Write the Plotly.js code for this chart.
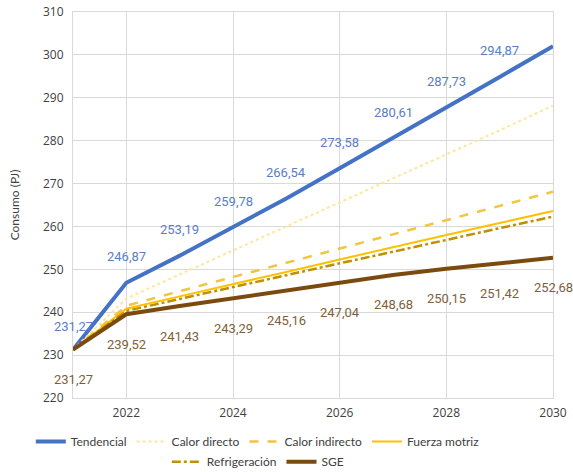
<!DOCTYPE html>
<html>
<head>
<meta charset="utf-8">
<script src="https://cdn.plot.ly/plotly-3.0.1.min.js"></script>
<style>html,body{margin:0;padding:0;background:#fff;}#chart{width:573px;height:472px;}</style>
</head>
<body>
<div id="chart"></div>
<script>
const years = [2021, 2022, 2023, 2024, 2025, 2026, 2027, 2028, 2029, 2030];
const tendencial = [231.27, 246.87, 253.19, 259.78, 266.54, 273.58, 280.61, 287.73, 294.87, 302.0];
const calorDirecto = [231.27, 243.2, 248.8, 254.4, 260.0, 265.5, 271.1, 276.7, 282.4, 288.2];
const calorIndirecto = [231.27, 241.5, 244.9, 248.2, 251.5, 254.9, 258.2, 261.5, 264.8, 268.1];
const fuerzaMotriz = [231.27, 240.8, 243.7, 246.5, 249.4, 252.3, 255.2, 258.0, 260.8, 263.6];
const refrigeracion = [231.27, 240.3, 243.1, 245.9, 248.6, 251.4, 254.1, 256.9, 259.6, 262.3];
const sge = [231.27, 239.52, 241.43, 243.29, 245.16, 247.04, 248.68, 250.15, 251.42, 252.68];
const tendencialLabelCount = 9; // the 2030 value carries no label in the source
const yTicks = [220, 230, 240, 250, 260, 270, 280, 290, 300, 310];
const xTicks = [2022, 2024, 2026, 2028, 2030];

const fmt = v => v.toFixed(2).replace('.', ',');

const traces = [
  {name: 'Tendencial', x: years, y: tendencial, mode: 'lines', line: {color: '#4472C4', width: 4}, legend: 'legend'},
  {name: 'Calor directo', x: years, y: calorDirecto, mode: 'lines', line: {color: '#FFE699', width: 2, dash: 'dot'}, legend: 'legend'},
  {name: 'Calor indirecto', x: years, y: calorIndirecto, mode: 'lines', line: {color: '#F2C440', width: 2.5, dash: 'dash'}, legend: 'legend'},
  {name: 'Fuerza motriz', x: years, y: fuerzaMotriz, mode: 'lines', line: {color: '#FFC000', width: 2}, legend: 'legend'},
  {name: 'Refrigeración', x: years, y: refrigeracion, mode: 'lines', line: {color: '#BF9000', width: 2.5, dash: 'dashdot'}, legend: 'legend2'},
  {name: 'SGE', x: years, y: sge, mode: 'lines', line: {color: '#7B4A0E', width: 4}, legend: 'legend2'}
];

const annotations = [];
for (let i = 0; i < tendencialLabelCount; i++) {
  annotations.push({x: years[i], y: tendencial[i], text: fmt(tendencial[i]), showarrow: false, yshift: i === 0 ? 23 : 26,
    font: {family: 'Roboto', size: 13, color: '#5A7EC6'}});
}
for (let i = 0; i < sge.length; i++) {
  annotations.push({x: years[i], y: sge[i], text: fmt(sge[i]), showarrow: false, yshift: -30,
    font: {family: 'Roboto', size: 13, color: '#7F5F3A'}});
}

const legendCommon = {orientation: 'h', xanchor: 'center', x: 0.385, yanchor: 'middle',
  font: {family: 'Lato', size: 12, color: '#404040'}, bgcolor: 'rgba(0,0,0,0)', traceorder: 'normal'};

const layout = {
  width: 573, height: 472,
  margin: {l: 73, r: 20, t: 12, b: 74, autoexpand: false},
  paper_bgcolor: '#ffffff', plot_bgcolor: '#ffffff',
  font: {family: 'Open Sans', size: 12, color: '#404040'},
  xaxis: {range: [2021, 2030], tickvals: xTicks, ticktext: xTicks.map(String), showgrid: true, gridcolor: '#d9d9d9', gridwidth: 1,
    showline: true, linecolor: '#d9d9d9', mirror: true, zeroline: false, ticks: 'outside', ticklen: 4, tickcolor: 'rgba(0,0,0,0)',
    tickfont: {family: 'Open Sans', size: 12, color: '#404040'}},
  yaxis: {range: [220, 310], tickvals: yTicks, ticktext: yTicks.map(String), showgrid: true, gridcolor: '#d9d9d9', gridwidth: 1,
    showline: true, linecolor: '#d9d9d9', mirror: true, zeroline: false, ticks: 'outside', ticklen: 6, tickcolor: 'rgba(0,0,0,0)',
    tickfont: {family: 'Open Sans', size: 12, color: '#404040'},
    title: {text: 'Consumo (PJ)', font: {family: 'Lato', size: 12, color: '#404040'}, standoff: 20}},
  legend: Object.assign({}, legendCommon, {y: -0.113}),
  legend2: Object.assign({}, legendCommon, {y: -0.165}),
  annotations: annotations,
  showlegend: true
};

Plotly.newPlot('chart', traces, layout, {displayModeBar: false, staticPlot: true});
</script>
</body>
</html>
